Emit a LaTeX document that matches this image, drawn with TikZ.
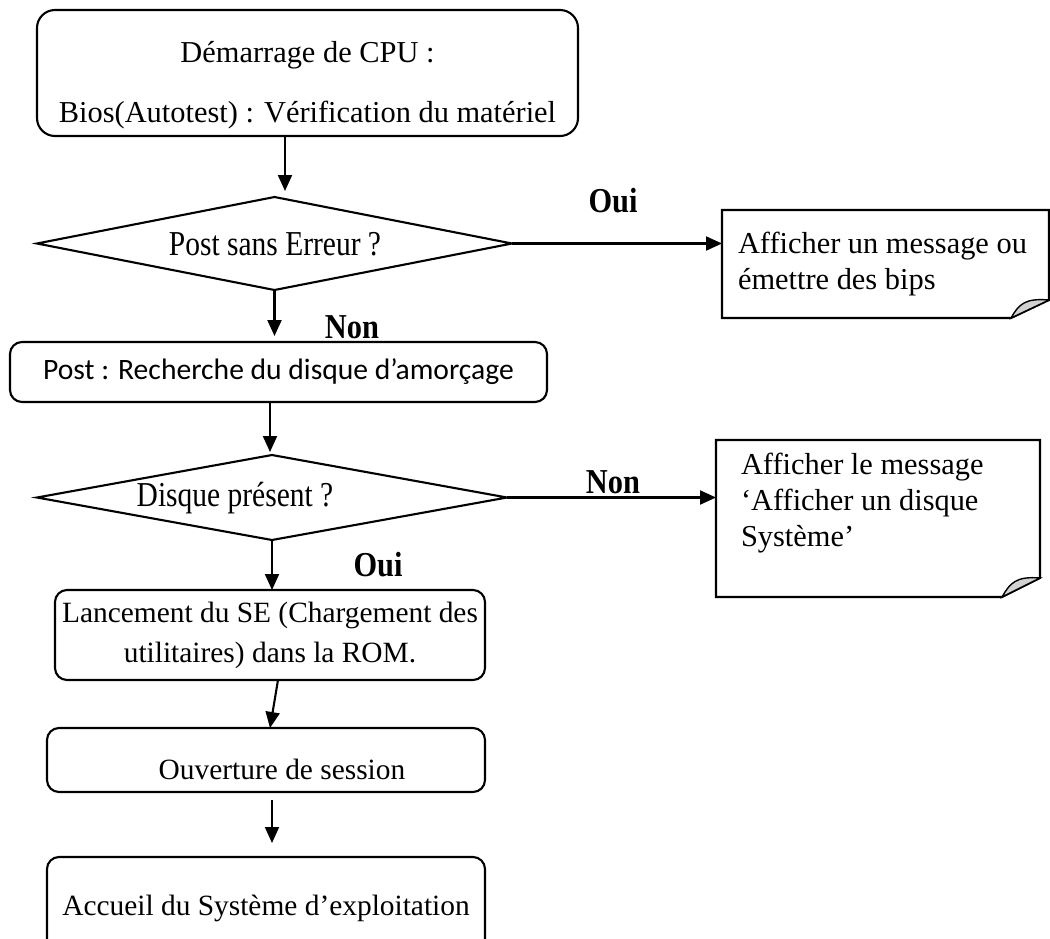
\documentclass[tikz,border=0pt]{standalone}
\usepackage{fontspec}
\setmainfont{Liberation Serif}
\newfontfamily\carlito{Carlito}
\usetikzlibrary{shapes.geometric,arrows.meta,calc}
\begin{document}
\begin{tikzpicture}[x=0.5pt,y=-0.5pt,
  font=\fontsize{15.2}{18}\selectfont,
  every node/.style={inner sep=0pt, outer sep=0pt},
  rbox/.style={draw, line width=1.05pt, rounded corners=6pt, align=center},
  dec/.style={draw, diamond, line width=1.05pt},
  noteshape/.style={line width=1.05pt},
  foldshape/.style={fill=gray!35, draw, line width=0.7pt},
  notetext/.style={anchor=north west, align=left, font=\fontsize{15.2}{18}\selectfont},
  smaller/.style={font=\fontsize{14.7}{18}\selectfont},
  arr/.style={-{Triangle[length=8pt,width=7pt]}, line width=1.05pt},
  lab/.style={font=\fontsize{15.2}{18}\selectfont\bfseries}
]
\useasboundingbox (0,0) rectangle (1050,938);

% boxes
\node[rbox, rounded corners=9pt, minimum width=270.5pt, minimum height=63pt] (b1) at (307.5,73) {};
\node[align=center] (b1t) at (307.5,85)
  {Démarrage de CPU :\\[12pt]Bios(Autotest) : Vérification du matériel};
\node[dec, minimum width=237.5pt, minimum height=46.5pt] (d1) at (274.5,243.5) {};
\node (d1t) at (275,244) {\scalebox{0.97}[1.15]{Post sans Erreur ?}};
\node[rbox, minimum width=268.5pt, minimum height=30pt, font=\carlito\fontsize{14.8}{18}\selectfont] (b2) at (278.5,372)
  {Post : Recherche du disque d’amorçage};
\node[dec, minimum width=235pt, minimum height=42.5pt] (d2) at (272,497.5) {};
\node (d2t) at (235,498) {\scalebox{0.97}[1.15]{Disque présent ?}};
\node[rbox, smaller, minimum width=215pt, minimum height=45pt] (b3) at (270,635)
  {Lancement du SE (Chargement des\\[2pt]utilitaires) dans la ROM.};
\node[rbox, minimum width=219pt, minimum height=32pt] (b4) at (266,760) {};
\node[smaller] (b4t) at (282,769) {Ouverture de session};
\node[rbox, smaller, minimum width=219pt, minimum height=51.5pt] (b5) at (266,908.5)
  {Accueil du Système d’exploitation};

% note 1
\node[minimum width=163.5pt, minimum height=54pt] (n1) at (885.5,264) {};
\coordinate (n1a) at ([xshift=-19pt]n1.south east);
\coordinate (n1b) at ([yshift=9pt]n1.south east);
\draw[noteshape] (n1.north west) -- (n1.north east) -- (n1b) -- (n1a) -- (n1.south west) -- cycle;
\draw[foldshape] (n1a) .. controls ([shift={(4pt,7pt)}]n1a) and ([shift={(-12pt,1pt)}]n1b) .. (n1b) -- cycle;
\node[notetext] (n1t) at (738,232) {Afficher un message ou\\émettre des bips};

% note 2
\node[minimum width=162pt, minimum height=78.5pt] (n2) at (878,518.5) {};
\coordinate (n2a) at ([xshift=-19pt]n2.south east);
\coordinate (n2b) at ([yshift=9.5pt]n2.south east);
\draw[noteshape] (n2.north west) -- (n2.north east) -- (n2b) -- (n2a) -- (n2.south west) -- cycle;
\draw[foldshape] (n2a) .. controls ([shift={(4pt,7pt)}]n2a) and ([shift={(-12pt,1pt)}]n2b) .. (n2b) -- cycle;
\node[notetext] (n2t) at (741,453) {Afficher le message\\‘Afficher un disque\\Système’};

% connector end points
\coordinate (b1s) at ([xshift=-11.25pt]b1.south);
\coordinate (d1n) at ([yshift=3pt]d1.north);
\coordinate (b2s) at ([xshift=-4.25pt]b2.south);
\coordinate (d2n) at ([yshift=1.5pt]d2.north);

% connectors
\draw[arr] (b1s) -- (d1n -| b1s);
\draw[arr] (d1.east) -- (d1.east -| n1.west);
\draw[arr] (d1.south) -- ([yshift=3pt]b2.north -| d1.south);
\draw[arr] (b2s) -- (d2n -| b2s);
\draw[arr] (d2.east) -- (d2.east -| n2.west);
\draw[arr] (d2.south) -- (b3.north -| d2.south);
\draw[arr] ([xshift=4pt]b3.south) -- ([xshift=2pt]b4.north);
\draw[arr] ([xshift=3pt,yshift=-4pt]b4.south) -- ([xshift=3pt,yshift=7pt]b5.north);

% labels
\node[lab] (l1) at (613,201) {\scalebox{1}[1.15]{Oui}};
\node[lab] (l2) at (352,327) {\scalebox{1}[1.15]{Non}};
\node[lab] (l3) at (613,482) {\scalebox{1}[1.15]{Non}};
\node[lab] (l4) at (378,565) {\scalebox{1}[1.15]{Oui}};
\end{tikzpicture}
\end{document}
